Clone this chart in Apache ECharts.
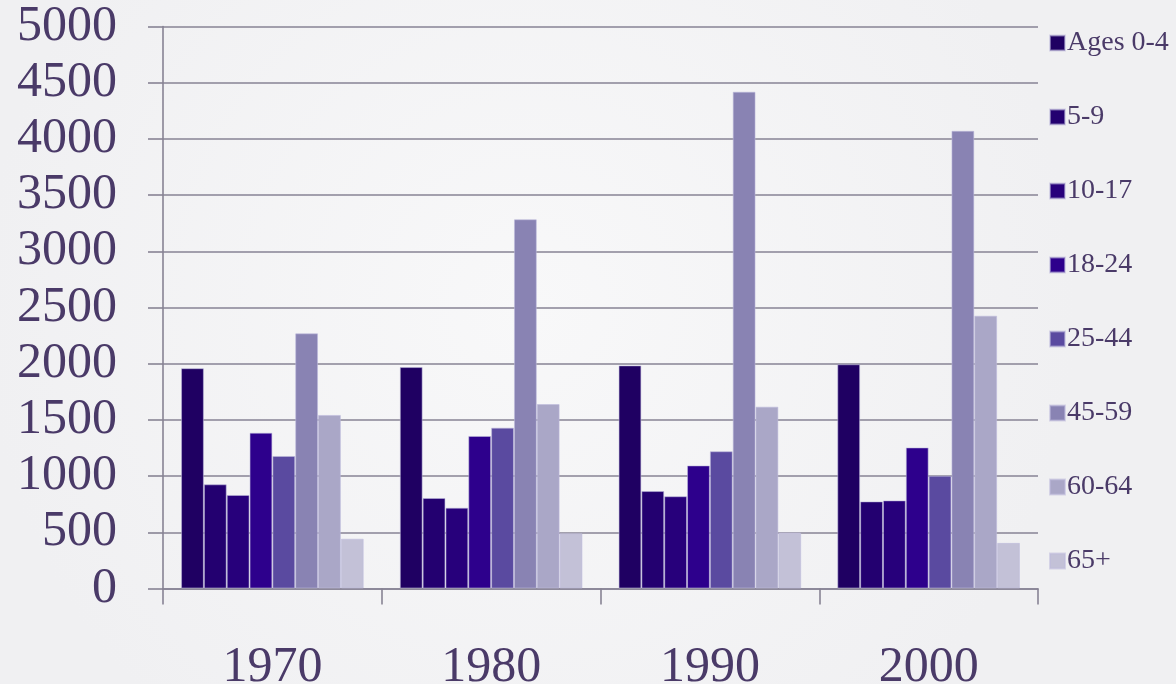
<!DOCTYPE html>
<html>
<head>
<meta charset="utf-8">
<script src="https://cdn.jsdelivr.net/npm/echarts@6/dist/echarts.min.js"></script>
<style>
  html, body { margin: 0; padding: 0; background: #f4f4f6; }
  #chart { width: 1176px; height: 684px; }
</style>
</head>
<body>
<div id="chart"></div>
<script>
// decades on the x axis
const years = ['1970', '1980', '1990', '2000'];

// one array per age group, one value per decade
const ages0to4 = [1960, 1970, 1985, 1995];
const ages5to9 = [927, 805, 867, 775];
const ages10to17 = [832, 719, 821, 784];
const ages18to24 = [1386, 1357, 1095, 1255];
const ages25to44 = [1179, 1431, 1221, 1003];
const ages45to59 = [2270, 3285, 4420, 4072];
const ages60to64 = [1544, 1641, 1618, 2427];
const ages65plus = [443, 491, 498, 406];

const groupNames = ['Ages 0-4', '5-9', '10-17', '18-24', '25-44', '45-59', '60-64', '65+'];
const groupValues = [ages0to4, ages5to9, ages10to17, ages18to24, ages25to44, ages45to59, ages60to64, ages65plus];

const yTicks = [0, 500, 1000, 1500, 2000, 2500, 3000, 3500, 4000, 4500, 5000];

const palette = [
  '#1f0062',
  '#230070',
  '#27007b',
  '#2d008c',
  '#5a4aa0',
  '#8983b3',
  '#aaa7c7',
  '#c3c1d7'
];

const textColor = '#4a3a68';
const lineColor = '#878394';
const serif = '"Liberation Serif", "DejaVu Serif", serif';

const chart = echarts.init(document.getElementById('chart'));

const option = {
  backgroundColor: {
    type: 'radial', x: 0.45, y: 0.45, r: 0.8,
    colorStops: [
      { offset: 0, color: '#f8f8f9' },
      { offset: 1, color: '#f0f0f2' }
    ]
  },
  animation: false,
  color: palette,
  textStyle: { fontFamily: serif, color: textColor },
  grid: { left: 163, right: 138, top: 26.5, bottom: 95.5, outerBoundsMode: 'none', containLabel: false },
  legend: {
    orient: 'vertical',
    left: 1049,
    top: 29,
    padding: 0,
    itemWidth: 15,
    itemHeight: 15,
    itemGap: 46,
    icon: 'rect',
    textStyle: { fontSize: 28, lineHeight: 28, color: textColor, fontFamily: serif, padding: [0, 0, 0, -3] },
    data: groupNames
  },
  xAxis: {
    type: 'category',
    data: years,
    axisLine: { lineStyle: { color: lineColor, width: 1.6 } },
    axisTick: { show: true, length: 16, lineStyle: { color: lineColor, width: 1.6 } },
    axisLabel: { fontSize: 50, color: textColor, margin: 54, fontFamily: serif }
  },
  yAxis: {
    type: 'value',
    min: yTicks[0],
    max: yTicks[yTicks.length - 1],
    interval: 500,
    axisLine: { show: true, lineStyle: { color: lineColor, width: 1.6 } },
    axisTick: { show: true, length: 15, lineStyle: { color: lineColor, width: 1.6 } },
    splitLine: { lineStyle: { color: lineColor, width: 1.6 } },
    axisLabel: {
      fontSize: 50, color: textColor, margin: 46, fontFamily: serif,
      formatter: (v) => String(v)
    }
  },
  series: groupNames.map((name, i) => ({
    name: name,
    type: 'bar',
    data: groupValues[i],
    barGap: '0%',
    barCategoryGap: '16.5%',
    itemStyle: {
      color: palette[i],
      borderColor: 'rgba(190,185,220,0.55)',
      borderWidth: 1
    }
  }))
};

chart.setOption(option);
</script>
</body>
</html>
